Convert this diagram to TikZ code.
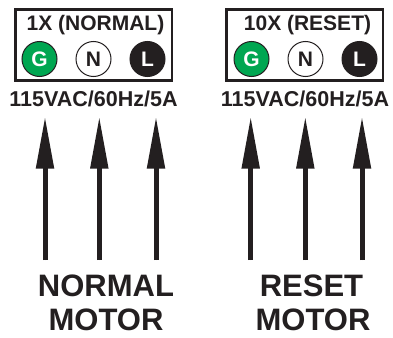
\documentclass[tikz,border=0pt]{standalone}
\usepackage{fontspec}
\setmainfont{Liberation Sans}
\usetikzlibrary{arrows.meta,positioning}
\definecolor{plugGreen}{RGB}{0,166,81}
\definecolor{inkBlack}{RGB}{35,31,32}

\begin{document}
\begin{tikzpicture}[x=1pt,y=-1pt,node distance=54pt,
		wire/.style={line width=5pt,draw=inkBlack,fill=inkBlack,
			-{Triangle[length=52pt,width=17pt]}}]
		\tikzstyle{outlet}=[draw=inkBlack,line width=2.5pt,minimum width=156.5pt,minimum height=71pt,inner sep=0pt]
		\tikzstyle{pin}=[circle,draw=inkBlack,line width=1pt,minimum size=35pt,inner sep=0pt,
			text=inkBlack,font=\fontsize{21}{21}\selectfont\bfseries]
		\tikzstyle{title}=[anchor=base,text=inkBlack,font=\fontsize{21}{21}\selectfont\bfseries]
		\tikzstyle{volt}=[anchor=base,text=inkBlack,font=\fontsize{21.5}{21.5}\selectfont\bfseries]
		\tikzstyle{motor}=[anchor=base,text=inkBlack,inner sep=1pt,font=\fontsize{31}{31}\selectfont\bfseries]
		
		\useasboundingbox (0,0) rectangle (393,337);
		
		% normal outlet
		\node[outlet] (boxA) at (93.75,45) {};
		\node[title] (titleA) at (95.5,31) {1X (NORMAL)};
		\node[pin,fill=plugGreen,text=white] (gA) at (39.5,59) {G};
		\node[pin]                 (nA) [right of=gA] {N};
		\node[pin,fill=inkBlack,text=white] (lA) [right of=nA] {L};
		\node[volt] (voltA) at (93.5,106) {115VAC/60Hz/5A};
		
		% reset outlet
		\node[outlet] (boxB) at (304.85,45) {};
		\node[title] (titleB) at (307.5,31) {10X (RESET)};
		\node[pin,fill=plugGreen,text=white] (gB) at (251.5,59) {G};
		\node[pin]                 (nB) [right of=gB] {N};
		\node[pin,fill=inkBlack,text=white] (lB) [right of=nB] {L};
		\node[volt] (voltB) at (305,106) {115VAC/60Hz/5A};
		
		% cords
		\coordinate (wA1) at (45,260);   \coordinate (tA1) at (45,116.5);
		\coordinate (wA2) at (99.3,260); \coordinate (tA2) at (99.3,116.5);
		\coordinate (wA3) at (156,260);  \coordinate (tA3) at (156,116.5);
		\coordinate (wB1) at (250.7,260); \coordinate (tB1) at (250.7,116.5);
		\coordinate (wB2) at (305.3,260); \coordinate (tB2) at (305.3,116.5);
		\coordinate (wB3) at (362,260);   \coordinate (tB3) at (362,116.5);
		
		\draw[wire] (wA1) -- (tA1);
		\draw[wire] (wA2) -- (tA2);
		\draw[wire] (wA3) -- (tA3);
		\draw[wire] (wB1) -- (tB1);
		\draw[wire] (wB2) -- (tB2);
		\draw[wire] (wB3) -- (tB3);
		
		% motor labels
		\node[motor] (normA)  at (106,296) {NORMAL};
		\node[motor] (motorA) at (106,330) {MOTOR};
		\node[motor] (resetB) at (311.5,296) {RESET};
		\node[motor] (motorB) at (313,330) {MOTOR};
\end{tikzpicture}
\end{document}
